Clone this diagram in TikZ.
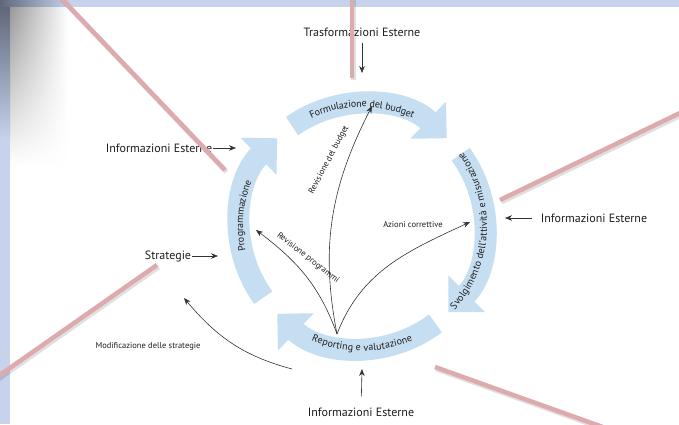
\documentclass[tikz,border=0pt]{standalone}
\usepackage{fontspec}
\setmainfont{PT Sans}
\usetikzlibrary{arrows.meta, decorations.text, fadings, positioning}

\definecolor{phaseblue}{RGB}{197,222,241}
\definecolor{pinkline}{RGB}{221,170,174}
\definecolor{slideblue}{RGB}{199,210,236}
\definecolor{slidedark}{RGB}{95,104,122}
\definecolor{textgray}{RGB}{30,30,30}

\begin{document}
\begin{tikzpicture}[%
    x=1pt, y=1pt,
    >={Stealth[length=7pt,width=5.5pt]},
    font=\fontsize{12}{13}\selectfont,
    ext/.style={text=textgray, inner sep=1pt},
    small/.style={text=textgray, font=\fontsize{8.5}{9}\selectfont, inner sep=1pt},
    feed/.style={->, draw=black!80, line width=0.6pt},
    phase/.style={draw=phaseblue, line width=22pt, -{Triangle[length=26pt,width=50pt]}},
    along/.style={decorate, decoration={text along path, text align=center,
        raise=-3pt, text color=textgray, text={|\fontsize{10}{10}\selectfont|#1}}},
    pink/.style={draw=pinkline, line width=4.5pt},
    pinkshadow/.style={draw=black, opacity=0.12, line width=5pt}
  ]

  % slide background
  \useasboundingbox (0,-424) rectangle (679,0);
  \fill[white] (0,-424) rectangle (679,0);
  \shade[left color=slidedark, right color=slideblue] (0,-7) rectangle (70,0);
  \fill[slideblue] (70,-7) rectangle (679,0);
  \shade[top color=slidedark, bottom color=slideblue] (0,-140) rectangle (10,-7);
  \fill[slideblue] (0,-424) rectangle (10,-140);
  \shade[left color=black!40, right color=white, path fading=south] (10,-165) rectangle (68,-7);

  \coordinate (hub) at (362,-226);

  % the four phases
  \draw[phase] (hub) ++(125:122) arc[start angle=125, end angle=46, radius=122];
  \draw[phase] (hub) ++(36:122) arc[start angle=36, end angle=-45, radius=122];
  \draw[phase] (hub) ++(-53:122) arc[start angle=-53, end angle=-134, radius=122];
  \draw[phase] (hub) ++(216:122) arc[start angle=216, end angle=134, radius=122];

  \path[along={Formulazione del budget}] (hub) ++(125:122) arc[start angle=125, end angle=55, radius=122];
  \path[along={Programmazione}] (hub) ++(212:122) arc[start angle=212, end angle=138, radius=122];
  \path[along={Svolgimento dell'attività e misurazione}] (hub) ++(-50:122) arc[start angle=-50, end angle=44, radius=122];
  \path[along={Reporting e valutazione}] (hub) ++(-127:122) arc[start angle=-127, end angle=-53, radius=122];

  % outside labels
  \node[ext] (topin) at (362,-32) {Trasformazioni Esterne};
  \node[ext] (leftin) at (159,-148) {Informazioni Esterne};
  \node[ext] (rightin) at (594,-218) {Informazioni Esterne};
  \node[ext] (botin) at (361,-412) {Informazioni Esterne};
  \node[ext] (strat) at (168,-256) {Strategie};
  \node[small] (modif) at (148,-346) {Modificazione delle strategie};
  \node[small] (azioni) at (413,-225) {Azioni correttive};
  \node[small, rotate=62] (revbud) at (329,-160) {Revisione del budget};
  \node[small, rotate=-38] (revprog) at (308,-258) {Revisione programmi};

  \coordinate (topend) at (362,-73);
  \coordinate (leftend) at (236,-148);
  \coordinate (stratend) at (218,-256);
  \coordinate (rightend) at (505,-218);
  \coordinate (botend) at (362,-369);
  \coordinate (origin) at (337,-334);
  \coordinate (budhead) at (372,-106);
  \coordinate (proghead) at (256,-230);
  \coordinate (azhead) at (470,-222);
  \coordinate (modstart) at (292,-369);
  \coordinate (modhead) at (184,-298);

  \draw[feed, shorten <=5pt] (topin) -- (topend);
  \draw[feed] (leftin) -- (leftend);
  \draw[feed] (strat) -- (stratend);
  \draw[feed] ([xshift=-8pt]rightin.west) -- (rightend);
  \draw[feed, shorten <=10pt] (botin) -- (botend);

  \draw[feed] (origin) to[out=101, in=243] (budhead);
  \draw[feed] (origin) to[out=110, in=-37] (proghead);
  \draw[feed] (origin) to[out=69, in=205] (azhead);
  \draw[feed] (modstart) to[out=165, in=-50] (modhead);

  % pink pointers on the slide
  \coordinate (pa1) at (60,3);   \coordinate (pa2) at (225,-170);
  \coordinate (pb1) at (352,3);  \coordinate (pb2) at (352,-78);
  \coordinate (pc1) at (682,-112); \coordinate (pc2) at (500,-200);
  \coordinate (pd1) at (435,-367); \coordinate (pd2) at (625,-435);
  \coordinate (pe1) at (157,-265); \coordinate (pe2) at (-3,-377);
  \foreach \a/\b in {pa1/pa2, pb1/pb2, pc1/pc2, pd1/pd2, pe1/pe2} {
    \draw[pinkshadow] ([shift={(1.5,-2)}]\a) -- ([shift={(1.5,-2)}]\b);
    \draw[pink] (\a) -- (\b);
  }
\end{tikzpicture}
\end{document}
